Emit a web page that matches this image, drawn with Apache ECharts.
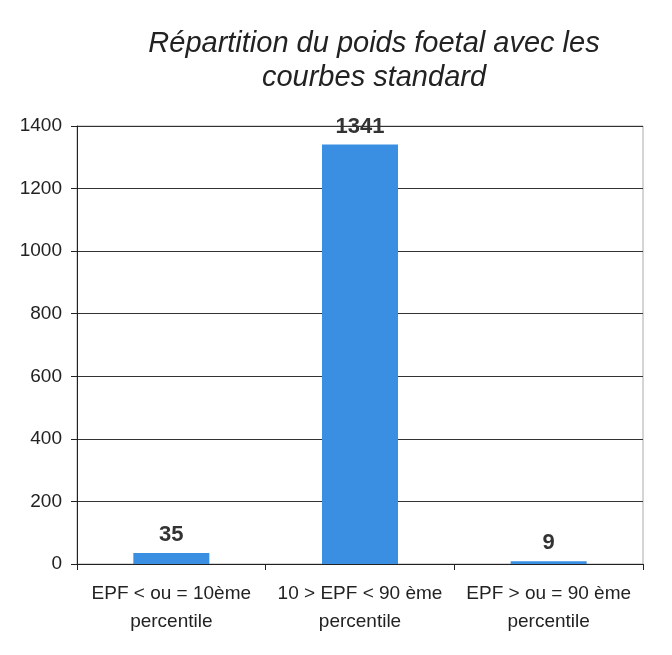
<!DOCTYPE html>
<html>
<head>
<meta charset="utf-8">
<script src="https://cdn.jsdelivr.net/npm/echarts@6/dist/echarts.min.js"></script>
<style>
  html, body { margin: 0; padding: 0; background: #fff; }
  #chart { width: 672px; height: 655px; }
</style>
</head>
<body>
<div id="chart"></div>
<script>
const categories = [
  "EPF < ou = 10ème\npercentile",
  "10 > EPF < 90 ème\npercentile",
  "EPF > ou = 90 ème\npercentile",
];
const counts = [35, 1341, 9];
const yTicks = [0, 200, 400, 600, 800, 1000, 1200, 1400];

const font = "'Liberation Sans', Arial, sans-serif";
const chart = echarts.init(document.getElementById("chart"));

chart.setOption({
  animation: false,
  backgroundColor: "#fff",
  title: {
    text: "Répartition du poids foetal avec les\ncourbes standard",
    left: 369,
    top: 22,
    textAlign: "center",
    textStyle: {
      fontFamily: font,
      fontStyle: "italic",
      fontWeight: "normal",
      fontSize: 29,
      lineHeight: 34,
      color: "#222",
    },
  },
  grid: {
    left: 77,
    right: 29,
    top: 126,
    bottom: 91,
    show: true,
    borderColor: "#aaa",
    borderWidth: 1,
  },
  xAxis: {
    type: "category",
    data: categories,
    axisLine: { lineStyle: { color: "#222", width: 1 } },
    axisTick: { show: true, length: 6, lineStyle: { color: "#222" } },
    axisLabel: {
      fontFamily: font,
      fontSize: 19,
      lineHeight: 28,
      color: "#222",
      margin: 16,
      interval: 0,
    },
  },
  yAxis: {
    type: "value",
    min: yTicks[0],
    max: yTicks[yTicks.length - 1],
    interval: 200,
    axisLine: { show: true, lineStyle: { color: "#222", width: 1 } },
    axisTick: { show: true, length: 6, lineStyle: { color: "#222" } },
    splitLine: { lineStyle: { color: "#333", width: 1 } },
    axisLabel: {
      fontFamily: font,
      fontSize: 19,
      color: "#222",
      margin: 15,
      formatter: (v) => String(v),
    },
  },
  series: [
    {
      type: "bar",
      data: counts,
      barWidth: 76,
      itemStyle: { color: "#3b8fe2" },
      label: {
        show: true,
        position: "top",
        distance: 7,
        fontFamily: font,
        fontWeight: "bold",
        fontSize: 22,
        color: "#333",
      },
    },
  ],
});
</script>
</body>
</html>
